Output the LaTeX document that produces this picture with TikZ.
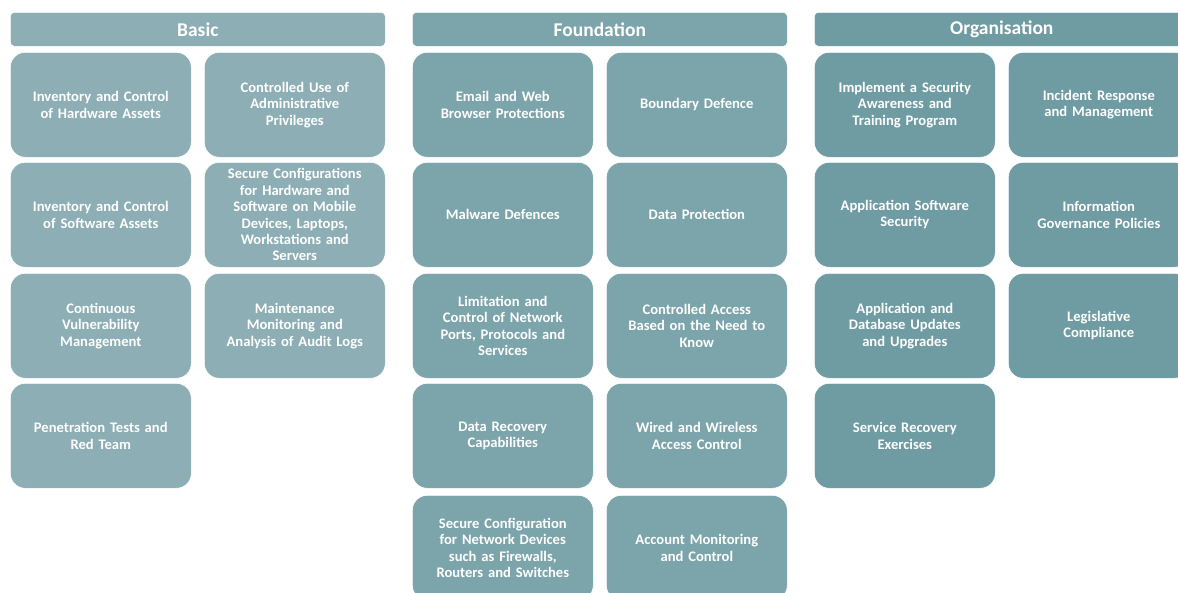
\documentclass[tikz,border=0pt]{standalone}
\usepackage{fontspec}
\setmainfont{Carlito}
\definecolor{cbasic}{HTML}{8CAEB4}
\definecolor{cfound}{HTML}{7CA4AB}
\definecolor{corg}{HTML}{6F9BA3}
\tikzset{
  hdr/.style={fill=#1, draw=white, line width=0.6pt, rounded corners=4pt, minimum width=375pt, minimum height=34pt, inner sep=0pt, anchor=north west, text=white, font=\fontsize{19.5}{21}\selectfont\bfseries},
  cell/.style={fill=#1, draw=white, line width=0.6pt, rounded corners=15pt, minimum width=181pt, minimum height=105pt, inner sep=0pt, anchor=north west, text=white, align=center, text width=178pt, font=\fontsize{14.6}{16.4}\selectfont\bfseries},
}
\begin{document}
\begin{tikzpicture}[x=1pt,y=-1pt]
\useasboundingbox (0,0) rectangle (1178,592);
\clip (0,0) rectangle (1178,592);
% headers
\node[hdr=cbasic] (hb) at (10,12) {Basic};
\node[hdr=cfound] (hf) at (412,12) {Foundation};
\node[hdr=corg] (ho) at (814,12) {Organisation};
% Basic
\node[cell=cbasic] (b1) at (10,52) {Inventory and Control\\of Hardware Assets};
\node[cell=cbasic] (b2) at (204,52) {Controlled Use of\\Administrative\\Privileges};
\node[cell=cbasic] (b3) at (10,162) {Inventory and Control\\of Software Assets};
\node[cell=cbasic] (b4) at (204,162) {Secure Configurations\\for Hardware and\\Software on Mobile\\Devices, Laptops,\\Workstations and\\Servers};
\node[cell=cbasic] (b5) at (10,273) {Continuous\\Vulnerability\\Management};
\node[cell=cbasic] (b6) at (204,273) {Maintenance\\Monitoring and\\Analysis of Audit Logs};
\node[cell=cbasic] (b7) at (10,383) {Penetration Tests and\\Red Team};
% Foundation
\node[cell=cfound] (f1) at (412,52) {Email and Web\\Browser Protections};
\node[cell=cfound] (f2) at (606,52) {Boundary Defence};
\node[cell=cfound] (f3) at (412,162) {Malware Defences};
\node[cell=cfound] (f4) at (606,162) {Data Protection};
\node[cell=cfound] (f5) at (412,273) {Limitation and\\Control of Network\\Ports, Protocols and\\Services};
\node[cell=cfound] (f6) at (606,273) {Controlled Access\\Based on the Need to\\Know};
\node[cell=cfound] (f7) at (412,383) {Data Recovery\\Capabilities};
\node[cell=cfound] (f8) at (606,383) {Wired and Wireless\\Access Control};
\node[cell=cfound] (f9) at (412,495) {Secure Configuration\\for Network Devices\\such as Firewalls,\\Routers and Switches};
\node[cell=cfound] (f10) at (606,495) {Account Monitoring\\and Control};
% Organisation
\node[cell=corg] (o1) at (814,52) {Implement a Security\\Awareness and\\Training Program};
\node[cell=corg] (o2) at (1008,52) {Incident Response\\and Management};
\node[cell=corg] (o3) at (814,162) {Application Software\\Security};
\node[cell=corg] (o4) at (1008,162) {Information\\Governance Policies};
\node[cell=corg] (o5) at (814,273) {Application and\\Database Updates\\and Upgrades};
\node[cell=corg] (o6) at (1008,273) {Legislative\\Compliance};
\node[cell=corg] (o7) at (814,383) {Service Recovery\\Exercises};
\end{tikzpicture}
\end{document}
